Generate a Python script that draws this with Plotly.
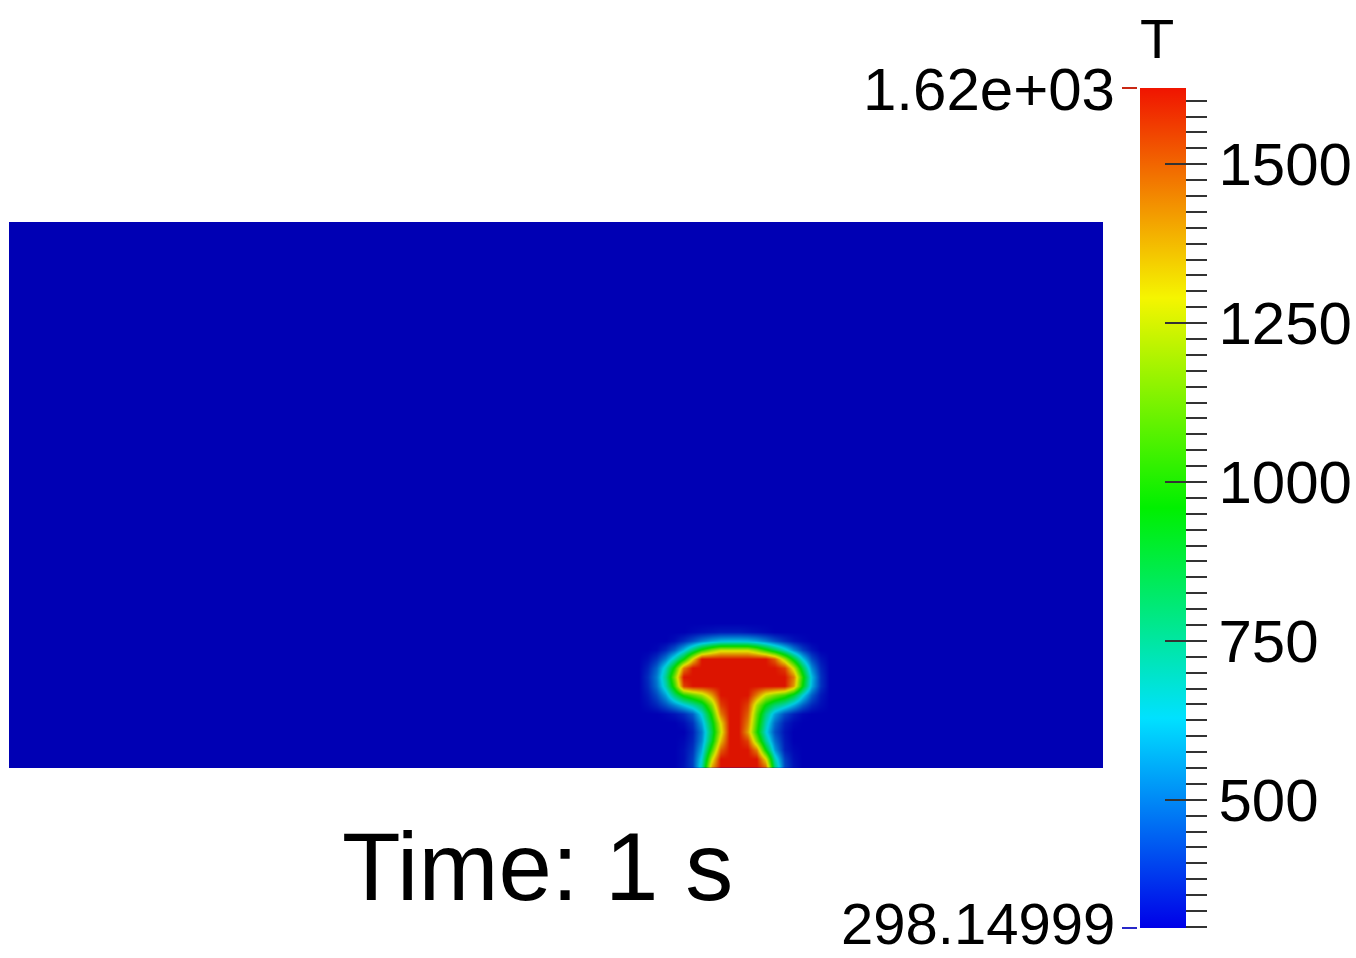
import plotly.graph_objects as go

# ---------------- data ----------------
T_MIN = 298.14999
T_MAX = 1620.0
B = T_MIN

# temperature field nodes (mm) around the hot plume; the rest of the domain is at T_MIN
grid_x = [68, 69, 70, 71, 72, 73, 74, 75, 76, 77, 78, 79, 80, 81, 82, 83, 84, 85, 86, 87, 88, 89, 90, 91]
grid_y = [0, 1, 2, 3, 4, 5, 6, 7, 8, 9, 10, 11, 12, 13, 14, 15, 16, 17]
field_T = [
    [B, B, B, B, B, B, 330, 400, 700, 1400, 1620, 1620, 1620, 1620, 1620, 1500, 800, 420, 330, B, B, B, B, B],
    [B, B, B, B, B, B, 320, 400, 650, 1250, 1620, 1620, 1620, 1620, 1620, 1300, 700, 400, 320, B, B, B, B, B],
    [B, B, B, B, B, B, 320, 380, 580, 1050, 1500, 1620, 1620, 1620, 1450, 950, 550, 350, 310, B, B, B, B, B],
    [B, B, B, B, B, B, 310, 360, 520, 900, 1350, 1620, 1620, 1550, 1150, 750, 480, 340, B, B, B, B, B, B],
    [B, B, B, B, B, B, B, 350, 500, 850, 1250, 1620, 1620, 1400, 1000, 650, 430, 330, B, B, B, B, B, B],
    [B, B, B, B, B, B, 320, 380, 560, 900, 1300, 1620, 1620, 1450, 1050, 700, 470, 350, 310, B, B, B, B, B],
    [B, B, B, B, 310, 330, 370, 450, 650, 1000, 1450, 1620, 1620, 1500, 1100, 780, 560, 420, 350, 310, B, B, B, B],
    [B, B, 320, 360, 430, 520, 620, 720, 850, 1150, 1550, 1620, 1620, 1550, 1200, 950, 800, 700, 580, 450, 360, 320, B, B],
    [B, B, 340, 420, 560, 800, 1000, 1100, 1200, 1400, 1620, 1620, 1620, 1620, 1450, 1250, 1150, 1050, 900, 650, 450, 340, B, B],
    [B, B, 360, 480, 700, 1050, 1550, 1620, 1620, 1620, 1620, 1620, 1620, 1620, 1620, 1620, 1620, 1620, 1400, 950, 580, 380, B, B],
    [B, B, 370, 500, 750, 1150, 1620, 1620, 1620, 1620, 1620, 1620, 1620, 1620, 1620, 1620, 1620, 1620, 1450, 1000, 600, 380, B, B],
    [B, B, 350, 460, 680, 1000, 1450, 1620, 1620, 1620, 1620, 1620, 1620, 1620, 1620, 1620, 1620, 1550, 1250, 850, 520, 360, B, B],
    [B, B, 320, 380, 500, 700, 950, 1300, 1620, 1620, 1620, 1620, 1620, 1620, 1620, 1620, 1500, 1200, 900, 620, 420, 330, B, B],
    [B, B, B, 310, 360, 450, 600, 800, 1000, 1150, 1250, 1250, 1250, 1250, 1150, 1000, 850, 680, 520, 400, 330, B, B, B],
    [B, B, B, B, B, 320, 370, 430, 500, 560, 600, 610, 610, 600, 560, 500, 430, 370, 330, 310, B, B, B, B],
    [B, B, B, B, B, B, B, 310, 320, 330, 340, 340, 340, 330, 320, 310, B, B, B, B, B, B, B, B],
    [B, B, B, B, B, B, B, B, B, B, B, B, B, B, B, B, B, B, B, B, B, B, B, B],
    [B, B, B, B, B, B, B, B, B, B, B, B, B, B, B, B, B, B, B, B, B, B, B, B],
]
domain_x = [0, 120]   # mm
domain_y = [0, 60]    # mm

tick_major = [500, 750, 1000, 1250, 1500]
tick_minor_step = 25
time_label = "Time: 1 s"
var_name = "T"

# ---------------- styles ----------------
FONT = "Liberation Sans"
field_scale = [
    [0.0, "rgb(0,0,180)"],
    [0.25, "rgb(0,205,225)"],
    [0.5, "rgb(0,215,0)"],
    [0.75, "rgb(225,225,0)"],
    [1.0, "rgb(220,20,0)"],
]
bar_scale = [
    [0.0, "rgb(0,0,232)"],
    [0.25, "rgb(0,225,255)"],
    [0.5, "rgb(0,240,0)"],
    [0.75, "rgb(245,245,0)"],
    [1.0, "rgb(240,20,0)"],
]

W, H = 1356, 958
ML, MR, MT, MB = 9, 1356 - 1103, 222, 958 - 768
PW, PH = W - ML - MR, H - MT - MB

def px_x(px):
    return (px - ML) / PW

def px_y(py):
    return (H - MB - py) / PH

BAR_L, BAR_W, BAR_TOP, BAR_BOT = 1140, 46, 88, 928
TICK_COLOR = "#333333"

fig = go.Figure()
fig.add_trace(go.Heatmap(
    x=grid_x, y=grid_y, z=field_T,
    zmin=T_MIN, zmax=T_MAX, zsmooth="best",
    colorscale=field_scale, showscale=False, hoverinfo="skip",
))

bar_geom = dict(
    x=px_x(BAR_L), xanchor="left", xpad=0, ypad=0,
    y=px_y((BAR_TOP + BAR_BOT) / 2), yanchor="middle",
    len=BAR_BOT - BAR_TOP, lenmode="pixels",
    thickness=BAR_W, thicknessmode="pixels",
    outlinewidth=0,
)

tickvals = list(range(300, 1601, tick_minor_step))
ticktext = [str(v) if v in tick_major else "" for v in tickvals]
# colour bar with the fine outside ticks and the labels
fig.add_trace(go.Scatter(
    x=[None], y=[None], mode="markers", hoverinfo="skip", showlegend=False,
    marker=dict(
        color=[T_MIN], cmin=T_MIN, cmax=T_MAX, colorscale=bar_scale, showscale=True,
        colorbar=dict(
            **bar_geom,
            tickmode="array", tickvals=tickvals, ticktext=ticktext,
            ticks="outside", ticklen=21, tickwidth=2, tickcolor=TICK_COLOR,
            tickfont=dict(family=FONT, size=60, color="black"),
        ),
    ),
))
# same bar drawn again on top, carrying the major ticks that reach into the bar
fig.add_trace(go.Scatter(
    x=[None], y=[None], mode="markers", hoverinfo="skip", showlegend=False,
    marker=dict(
        color=[T_MIN], cmin=T_MIN, cmax=T_MAX, colorscale=bar_scale, showscale=True,
        colorbar=dict(
            **bar_geom,
            tickmode="array", tickvals=tick_major,
            ticks="inside", ticklen=21, tickwidth=2, tickcolor=TICK_COLOR,
            showticklabels=False,
        ),
    ),
))

shapes = [
    dict(type="line", xref="paper", yref="paper",
         x0=px_x(1122), x1=px_x(1137), y0=px_y(BAR_TOP), y1=px_y(BAR_TOP),
         line=dict(color="rgb(200,40,20)", width=2)),
    dict(type="line", xref="paper", yref="paper",
         x0=px_x(1122), x1=px_x(1137), y0=px_y(BAR_BOT), y1=px_y(BAR_BOT),
         line=dict(color="rgb(40,40,200)", width=2)),
]

annotations = [
    dict(text=f"{T_MAX:.2e}", xref="paper", yref="paper", x=px_x(1117), y=px_y(90),
         xanchor="right", yanchor="middle", showarrow=False,
         font=dict(family=FONT, size=60, color="black")),
    dict(text=f"{T_MIN:.5f}", xref="paper", yref="paper", x=px_x(1117), y=px_y(924),
         xanchor="right", yanchor="middle", showarrow=False,
         font=dict(family=FONT, size=58, color="black")),
    dict(text=var_name, xref="paper", yref="paper", x=px_x(1157), y=px_y(38),
         xanchor="center", yanchor="middle", showarrow=False,
         font=dict(family=FONT, size=56, color="black")),
    dict(text=time_label, xref="paper", yref="paper", x=px_x(537), y=px_y(866),
         xanchor="center", yanchor="middle", showarrow=False,
         font=dict(family=FONT, size=96, color="black")),
]

fig.update_layout(
    width=W, height=H, autosize=False,
    margin=dict(l=ML, r=MR, t=MT, b=MB, pad=0, autoexpand=False),
    paper_bgcolor="white", plot_bgcolor="rgb(0,0,180)",
    xaxis=dict(range=domain_x, visible=False, showgrid=False, zeroline=False, fixedrange=True),
    yaxis=dict(range=domain_y, visible=False, showgrid=False, zeroline=False, fixedrange=True),
    shapes=shapes, annotations=annotations, showlegend=False,
)

fig.write_html("out.html", post_script="document.body.style.margin='0px';",
               config={"displayModeBar": False})
